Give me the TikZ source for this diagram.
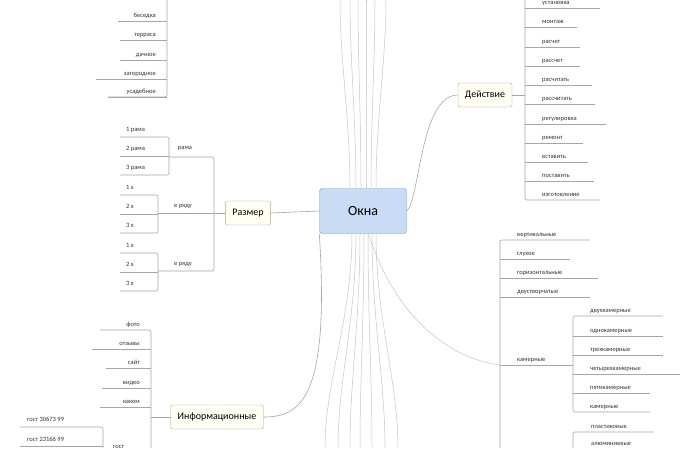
\documentclass[tikz,border=0pt]{standalone}
\usepackage{fontspec}
\setmainfont{Carlito}
\usetikzlibrary{positioning}
\definecolor{rootfill}{RGB}{200,220,245}
\definecolor{rootline}{RGB}{120,150,200}
\tikzset{
  topic/.style={draw=gray!70, fill=yellow!5, rounded corners=2pt, inner xsep=7pt, minimum height=24pt, font=\fontsize{10}{11}\selectfont},
  root/.style={draw=rootline, fill=rootfill, rounded corners=3pt, minimum width=87pt, minimum height=45pt, font=\fontsize{14}{16}\selectfont},
  leaf/.style={font=\fontsize{6.5}{7}\selectfont, text=black!80, inner sep=1pt},
  ln/.style={draw=gray!70, line width=0.6pt},
  fan/.style={draw=gray!45, line width=0.5pt}
}
\begin{document}
\begin{tikzpicture}[x=1pt,y=-1pt]
\useasboundingbox (0,0) rectangle (694,448);
\fill[white] (0,0) rectangle (694,448);
% fan lines of the hidden branches
\foreach \a/\b in {350/340,356/350,361/358,366/366,371/375,376/386}
  \draw[fan] (\a,188) .. controls (\a,120) and (\b,60) .. (\b,0);
\foreach \a/\b in {352/325,356/338,360/350,364/360,368/372,372/385,376/398}
  \draw[fan] (\a,233) .. controls (\a,320) and (\b,380) .. (\b,448);
\draw[fan] (368,233) .. controls (400,330) and (460,360) .. (500,365);
% main nodes
\node[root] (okna) at (363,211) {Окна};
\node[topic] (razmer) at (248,213) {Размер};
\node[topic] (dejstv) at (485,95) {Действие};
\node[topic] (inform) at (217,417) {Информационные};
\draw[ln] (okna.west) -- (razmer.east);
\draw[ln] (okna.east) .. controls (420,200) and (420,95) .. (dejstv.west);
\draw[ln] (okna.south west) .. controls (330,400) and (300,417) .. (inform.east);
% top left list
\draw[ln, rounded corners=2pt] (167,0) -- (167,97) -- (108,97);
\foreach \t/\y/\l in {беседка/21/118, терраса/40/120, дачное/60/120, загородное/79/96, усадебное/97/108}{
  \draw[ln] (\l,\y) -- (167,\y);
  \node[leaf, anchor=base east] at (157,\y-4) {\t};
}
% Размер
\draw[ln] (razmer.west) -- (214,213);
\draw[ln, rounded corners=2pt] (169,157) -- (214,157) -- (214,271) -- (158,271);
\draw[ln] (158,213) -- (214,213);
\node[leaf] (rama) at (185,148) {рама};
\node[leaf] (vr1) at (183,206) {в ряду};
\node[leaf] (vr2) at (183,264) {в ряду};
\draw[ln, rounded corners=2pt] (120,137) -- (169,137) -- (169,175) -- (120,175);
\draw[ln] (120,156) -- (169,156);
\foreach \t/\y in {1 рама/131, 2 рама/150, 3 рама/169}
  \node[leaf, anchor=base west] at (125,\y) {\t};
\foreach \o in {0,58}{
  \draw[ln, rounded corners=2pt] (120,195+\o) -- (158,195+\o) -- (158,233+\o) -- (120,233+\o);
  \draw[ln] (120,214+\o) -- (158,214+\o);
  \foreach \t/\y in {1 х/189, 2 х/208, 3 х/227}
    \node[leaf, anchor=base west] at (125,\y+\o) {\t};
}
% Действие
\draw[ln] (dejstv.east) -- (525,95);
\draw[ln, rounded corners=2pt] (525,0) -- (525,200) -- (600,200);
\foreach \t/\y/\r in {установка/8/600, монтаж/27/577, расчет/47/580, рассчет/66/580, расчитать/85/592, рассчитать/104/595, регулировка/124/606, ремонт/143/583, вставить/162/588, поставить/181/594}{
  \draw[ln] (525,\y) -- (\r,\y);
  \node[leaf, anchor=base west] at (541,\y-4) {\t};
}
\node[leaf, anchor=base west] at (541,196) {изготовление};
% правый нижний список
\draw[ln, rounded corners=2pt] (590,240) -- (500,240) -- (500,448);
\foreach \t/\y/\r in {глухое/259/570, горизонтальные/278/598, двустворчатые/297/590}
  \draw[ln] (500,\y) -- (\r,\y);
\foreach \t/\y in {вертикальные/236, глухое/255, горизонтальные/274, двустворчатые/293}
  \node[leaf, anchor=base west] at (516,\y) {\t};
\draw[ln] (500,365) -- (573,365);
\node[leaf, anchor=base west] at (516,361) {камерные};
\draw[ln, rounded corners=2pt] (663,316) -- (573,316) -- (573,412) -- (650,412);
\foreach \y/\r in {336/663,355/663,374/680,393/650}
  \draw[ln] (573,\y) -- (\r,\y);
\foreach \t/\y in {двухкамерные/312, однокамерные/332, трехкамерные/351, четырехкамерные/370, пятикамерные/389, камерные/408}
  \node[leaf, anchor=base west] at (589,\y) {\t};
\draw[ln, rounded corners=2pt] (573,448) -- (573,432) -- (654,432);
\node[leaf, anchor=base west] at (590,428) {пластиковые};
\node[leaf, anchor=base west] at (590,445) {алюминиевые};
% Информационные
\draw[ln] (inform.west) -- (151,417);
\draw[ln, rounded corners=2pt] (100,330) -- (151,330) -- (151,448);
\foreach \t/\y/\l in {отзывы/349/92, сайт/368/106, видео/388/102, каком/407/100}
  \draw[ln] (\l,\y) -- (151,\y);
\foreach \t/\y in {фото/326, отзывы/345, сайт/364, видео/384, каком/403}
  \node[leaf, anchor=base east] at (141,\y) {\t};
\draw[ln, rounded corners=2pt] (20,427) -- (103,427) -- (103,448);
\draw[ln] (20,446) -- (103,446);
\node[leaf, anchor=base west] at (26,421) {гост 30673 99};
\node[leaf, anchor=base west] at (26,441) {гост 23166 99};
\node[leaf, anchor=base west] at (112,448) {гост};
\end{tikzpicture}
\end{document}
